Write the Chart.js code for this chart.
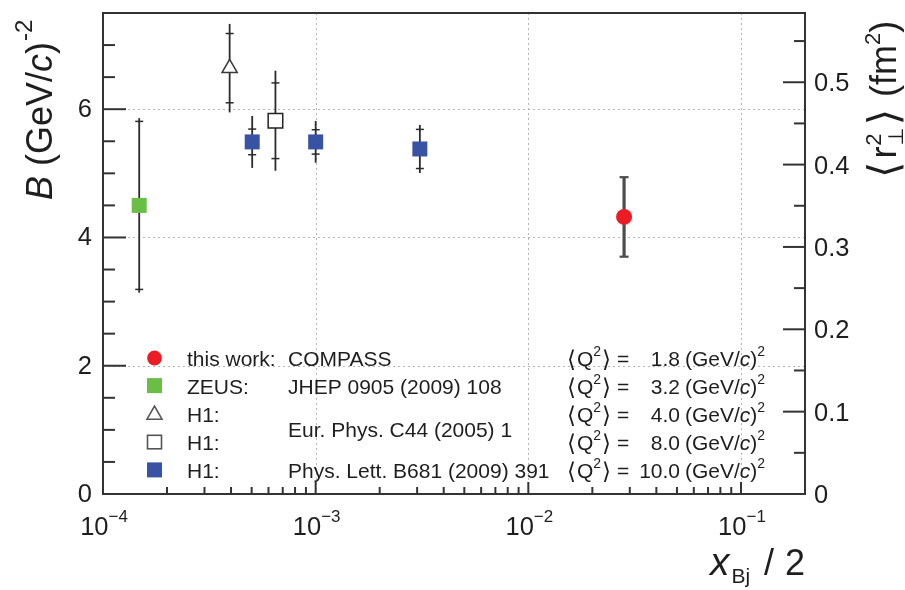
<!DOCTYPE html>
<html><head><meta charset="utf-8">
<script src="https://cdn.jsdelivr.net/npm/chart.js@4"></script>
<style>html,body{margin:0;padding:0;background:#fff;overflow:hidden}canvas{display:block}</style>
</head><body>
<canvas id="c" width="905" height="590"></canvas>
<script>
// ---------------- data ----------------
// x = x_Bj / 2 , B in (GeV/c)^-2, tot = total error, stat = inner (statistical) error
const compassX = [0.0282];
const compassB = [4.32];
const compassTot = [0.62];

const zeusX = [1.48e-4];
const zeusB = [4.50];
const zeusTot = [1.36];
const zeusStat = [1.31];

const h1q4X = [3.94e-4];
const h1q4B = [6.64];
const h1q4Tot = [0.69];
const h1q4Stat = [0.54];

const h1q8X = [6.47e-4];
const h1q8B = [5.82];
const h1q8Tot = [0.78];
const h1q8Stat = [0.59];

const h1q10X = [5.03e-4, 1.0e-3, 3.09e-3];
const h1q10B = [5.49, 5.49, 5.38];
const h1q10Tot = [0.405, 0.325, 0.375];
const h1q10Stat = [0.20, 0.19, 0.305];

// legend texts
const legendNames = ['this work:', 'ZEUS:', 'H1:', 'H1:', 'H1:'];
const legendRefs = ['COMPASS', 'JHEP 0905 (2009) 108', '', '', 'Phys. Lett. B681 (2009) 391'];
const sharedRef = 'Eur. Phys. C44 (2005) 1';
const legendQ2 = ['1.8', '3.2', '4.0', '8.0', '10.0'];

// axes
const xMin = 1e-4, xMax = 0.2;
const yMin = 0, yMax = 7.5;
const r2PerB = 2 * 0.038938;          // <r_T^2> = 2 B (hbar c)^2  [fm^2]
const yTicks = [0, 2, 4, 6];
const r2Ticks = [0, 0.1, 0.2, 0.3, 0.4, 0.5];
const xTickExponents = [-4, -3, -2, -1];

// ---------------- drawing helpers ----------------
const FONT = '"Liberation Sans", Arial, Helvetica, sans-serif';
const SYM = '"DejaVu Sans", ' + FONT;
const TXT = '#1e1e1e';

function rich(ctx, pieces, x, y) {
  let cx = x;
  for (const p of pieces) {
    ctx.font = p.f;
    ctx.fillText(p.t, cx + (p.dx || 0), y + (p.dy || 0));
    if (p.adv !== false) cx += ctx.measureText(p.t).width + (p.dx || 0) + (p.gap || 0);
  }
  return cx;
}
function richWidth(ctx, pieces) {
  let w = 0;
  for (const p of pieces) { ctx.font = p.f; if (p.adv !== false) w += ctx.measureText(p.t).width + (p.dx || 0) + (p.gap || 0); }
  return w;
}
function line(ctx, x1, y1, x2, y2) { ctx.beginPath(); ctx.moveTo(x1, y1); ctx.lineTo(x2, y2); ctx.stroke(); }

const errorSets = [
  {xs: zeusX, ys: zeusB, tot: zeusTot, stat: zeusStat},
  {xs: h1q4X, ys: h1q4B, tot: h1q4Tot, stat: h1q4Stat},
  {xs: h1q8X, ys: h1q8B, tot: h1q8Tot, stat: h1q8Stat},
  {xs: h1q10X, ys: h1q10B, tot: h1q10Tot, stat: h1q10Stat},
  {xs: compassX, ys: compassB, tot: compassTot, stat: null, caps: true}
];

const physPlugin = {
  id: 'phys',
  beforeDatasetsDraw(chart) {
    const {ctx, chartArea: a} = chart;
    const xs = chart.scales.x, ys = chart.scales.y;
    ctx.save();
    // dotted grid
    ctx.strokeStyle = '#b5b5b5'; ctx.lineWidth = 1; ctx.setLineDash([2, 3]);
    xTickExponents.slice(1).forEach(e => {
      const px = Math.round(xs.getPixelForValue(Math.pow(10, e))) + 0.5;
      line(ctx, px, a.top, px, a.bottom);
    });
    yTicks.slice(1).forEach(v => {
      const py = Math.round(ys.getPixelForValue(v)) + 0.5;
      line(ctx, a.left, py, a.right, py);
    });
    ctx.setLineDash([]);
    // error bars
    errorSets.forEach(s => {
      s.xs.forEach((xv, i) => {
        const px = xs.getPixelForValue(xv);
        const yt = ys.getPixelForValue(s.ys[i] + s.tot[i]);
        const yb = ys.getPixelForValue(s.ys[i] - s.tot[i]);
        if (s.caps) {
          ctx.strokeStyle = '#4d4d4d'; ctx.lineWidth = 3.2;
          line(ctx, px, yt, px, yb);
          ctx.lineWidth = 2.2;
          line(ctx, px - 4.5, yt, px + 4.5, yt);
          line(ctx, px - 4.5, yb, px + 4.5, yb);
        } else {
          ctx.strokeStyle = '#2b2b2b'; ctx.lineWidth = 1.8;
          line(ctx, px, yt, px, yb);
          ctx.lineWidth = 1.5;
          const st = ys.getPixelForValue(s.ys[i] + s.stat[i]);
          const sb = ys.getPixelForValue(s.ys[i] - s.stat[i]);
          line(ctx, px - 4, st, px + 4, st);
          line(ctx, px - 4, sb, px + 4, sb);
        }
      });
    });
    ctx.restore();
  },
  afterDraw(chart) {
    const {ctx, chartArea: a} = chart;
    const xs = chart.scales.x, ys = chart.scales.y, y2 = chart.scales.y2;
    ctx.save();
    ctx.strokeStyle = '#333'; ctx.lineWidth = 2;
    ctx.strokeRect(a.left, a.top, a.right - a.left, a.bottom - a.top);
    // left ticks (inward)
    for (let v = yMin; v <= yMax + 1e-9; v += 0.5) {
      const py = ys.getPixelForValue(v);
      const major = Math.abs(v / 2 - Math.round(v / 2)) < 1e-6;
      line(ctx, a.left, py, a.left + (major ? 23 : 12), py);
    }
    // right ticks (inward)
    for (let v = 0; v <= y2.max + 1e-9; v += 0.05) {
      const py = y2.getPixelForValue(v);
      const major = Math.abs(v * 10 - Math.round(v * 10)) < 1e-6;
      line(ctx, a.right - (major ? 22 : 11), py, a.right, py);
    }
    // bottom ticks (inward, log)
    xTickExponents.forEach(e => {
      for (let k = 1; k <= 9; k++) {
        const v = k * Math.pow(10, e);
        if (v > xMax * 1.0001) break;
        const px = xs.getPixelForValue(v);
        line(ctx, px, a.bottom, px, a.bottom - (k === 1 ? 12 : 7));
      }
    });
    // tick labels
    ctx.fillStyle = TXT;
    ctx.textBaseline = 'middle';
    ctx.font = '25.5px ' + FONT;
    ctx.textAlign = 'right';
    yTicks.forEach(v => ctx.fillText(String(v), a.left - 11, ys.getPixelForValue(v) + 1));
    ctx.textAlign = 'left';
    r2Ticks.forEach(v => ctx.fillText(String(v), a.right + 9, y2.getPixelForValue(v) + 2));
    ctx.textBaseline = 'alphabetic';
    xTickExponents.forEach(e => {
      const pcs = [{t: '10', f: '25.5px ' + FONT}, {t: '\u2212' + Math.abs(e), f: '17px ' + FONT, dy: -13}];
      const w = richWidth(ctx, pcs);
      rich(ctx, pcs, xs.getPixelForValue(Math.pow(10, e)) - w / 2 + 1, 535);
    });

    // axis titles
    // x title
    ctx.textAlign = 'left';
    rich(ctx, [
      {t: 'x', f: 'italic 39px ' + FONT, gap: 2},
      {t: 'Bj', f: '21px ' + FONT, dy: 8}
    ], 710, 575);
    ctx.font = '36px ' + FONT;
    ctx.fillText('/', 764, 575);
    ctx.textAlign = 'right';
    ctx.fillText('2', 805, 575);
    ctx.textAlign = 'left';
    // left title
    ctx.save();
    ctx.translate(52, 200); ctx.rotate(-Math.PI / 2);
    rich(ctx, [
      {t: 'B', f: 'italic 36px ' + FONT},
      {t: ' (GeV/', f: '36px ' + FONT},
      {t: 'c', f: 'italic 36px ' + FONT},
      {t: ')', f: '36px ' + FONT, gap: 1},
      {t: '-2', f: '24px ' + FONT, dy: -20}
    ], 0, 0);
    ctx.restore();
    // right title
    ctx.save();
    ctx.translate(896, 178); ctx.rotate(-Math.PI / 2);
    rich(ctx, [
      {t: '\u27E8', f: '42px ' + SYM, dy: 2, gap: 3},
      {t: 'r', f: '36px ' + FONT, gap: 1},
      {t: '2', f: '22px ' + FONT, dy: -15, adv: false},
      {t: '\u22A5', f: '21px ' + SYM, dy: 7, gap: 2},
      {t: '\u27E9', f: '42px ' + SYM, dy: 2, gap: 2},
      {t: ' (fm', f: '36px ' + FONT},
      {t: '2', f: '22px ' + FONT, dy: -16},
      {t: ')', f: '36px ' + FONT}
    ], 0, 0);
    ctx.restore();

    // legend
    const base0 = 366, step = 28.1;
    const mx = 154.5;
    legendNames.forEach((name, i) => {
      const by = base0 + i * step;
      const my = by - 8.5;
      ctx.lineWidth = 1.6;
      if (i === 0) { ctx.fillStyle = '#ed1c24'; ctx.beginPath(); ctx.arc(mx, my + 0.5, 7.4, 0, Math.PI * 2); ctx.fill(); }
      else if (i === 1) { ctx.fillStyle = '#6abd45'; ctx.fillRect(mx - 7.5, my - 7.5, 15, 15); }
      else if (i === 2) { ctx.strokeStyle = '#555'; ctx.beginPath(); ctx.moveTo(mx, my - 7.5); ctx.lineTo(mx + 7.5, my + 5.5); ctx.lineTo(mx - 7.5, my + 5.5); ctx.closePath(); ctx.stroke(); }
      else if (i === 3) { ctx.strokeStyle = '#555'; ctx.strokeRect(mx - 7, my - 6.5, 14, 13.5); }
      else { ctx.fillStyle = '#3953a4'; ctx.fillRect(mx - 7.5, my - 7.5, 15, 15); }
      ctx.fillStyle = TXT;
      ctx.font = '21px ' + FONT;
      ctx.textAlign = 'left';
      ctx.fillText(name, 187, by);
      if (legendRefs[i]) ctx.fillText(legendRefs[i], 288, by);
      rich(ctx, [
        {t: '\u27E8', f: '23px ' + SYM, dy: 1, gap: 1},
        {t: 'Q', f: '21px ' + FONT},
        {t: '2', f: '14px ' + FONT, dy: -10, gap: 1},
        {t: '\u27E9', f: '23px ' + SYM, dy: 1}
      ], 567, by);
      ctx.font = '21px ' + FONT;
      ctx.fillText('=', 617, by);
      ctx.textAlign = 'right';
      ctx.fillText(legendQ2[i], 680, by);
      ctx.textAlign = 'left';
      rich(ctx, [
        {t: '(GeV/', f: '21px ' + FONT},
        {t: 'c', f: 'italic 21px ' + FONT},
        {t: ')', f: '21px ' + FONT},
        {t: '2', f: '14px ' + FONT, dy: -10}
      ], 685, by);
    });
    ctx.font = '21px ' + FONT;
    ctx.fillText(sharedRef, 288, 436.7);
    ctx.restore();
  }
};

const pts = (xs, ys) => xs.map((v, i) => ({x: v, y: ys[i]}));

new Chart(document.getElementById('c'), {
  type: 'scatter',
  data: {
    datasets: [
      {label: 'COMPASS', data: pts(compassX, compassB), pointStyle: 'circle', pointRadius: 8, pointHoverRadius: 8,
       backgroundColor: '#ed1c24', borderColor: '#ed1c24', borderWidth: 0},
      {label: 'ZEUS', data: pts(zeusX, zeusB), pointStyle: 'rect', pointRadius: 10.6, pointHoverRadius: 10.6,
       backgroundColor: '#6abd45', borderColor: '#6abd45', borderWidth: 0},
      {label: 'H1 Q2=4', data: pts(h1q4X, h1q4B), pointStyle: 'triangle', pointRadius: 8.8, pointHoverRadius: 8.8,
       backgroundColor: '#ffffff', borderColor: '#3a3a3a', borderWidth: 1.5},
      {label: 'H1 Q2=8', data: pts(h1q8X, h1q8B), pointStyle: 'rect', pointRadius: 10.3, pointHoverRadius: 10.3,
       backgroundColor: '#ffffff', borderColor: '#222222', borderWidth: 1.5},
      {label: 'H1 Q2=10', data: pts(h1q10X, h1q10B), pointStyle: 'rect', pointRadius: 10.6, pointHoverRadius: 10.6,
       backgroundColor: '#3953a4', borderColor: '#3953a4', borderWidth: 0}
    ]
  },
  options: {
    responsive: false,
    animation: false,
    devicePixelRatio: 1,
    events: [],
    layout: {padding: {left: 103, right: 100, top: 13, bottom: 96}},
    plugins: {legend: {display: false}, tooltip: {enabled: false}, title: {display: false}},
    scales: {
      x: {type: 'logarithmic', min: xMin, max: xMax, display: false},
      y: {type: 'linear', min: yMin, max: yMax, display: false},
      y2: {type: 'linear', position: 'right', min: 0, max: yMax * r2PerB, display: false}
    }
  },
  plugins: [physPlugin]
});
</script>
</body></html>
